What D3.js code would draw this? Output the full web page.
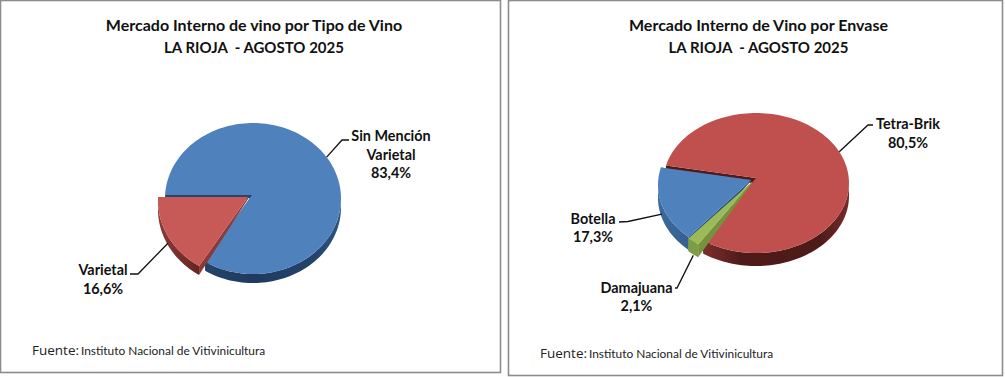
<!DOCTYPE html>
<html><head><meta charset="utf-8">
<script src="https://cdn.jsdelivr.net/npm/d3@7"></script>
<style>html,body{margin:0;padding:0;background:#fff}svg{display:block}text{font-family:Lato,"Open Sans",sans-serif;fill:#111}</style>
</head><body><svg id="c" width="1005" height="377"></svg>
<script>
// Data
const tipoCategories = ["Sin Mención Varietal", "Varietal"];
const tipoValues = [83.4, 16.6];
const tipoLabels = ["83,4%", "16,6%"];
const envaseCategories = ["Tetra-Brik", "Damajuana", "Botella"];
const envaseValues = [80.5, 2.1, 17.3];
const envaseLabels = ["80,5%", "2,1%", "17,3%"];
const titleTipo = ["Mercado Interno de vino por Tipo de Vino", "LA RIOJA  - AGOSTO 2025"];
const titleEnvase = ["Mercado Interno de Vino por Envase", "LA RIOJA  - AGOSTO 2025"];
const fuenteHead = "Fuente:";
const fuenteBody = "Instituto Nacional de Vitivinicultura";

const svg = d3.select("#c");
const defs = svg.append("defs");
const rad = d => d * Math.PI / 180;

function wallGrad(id, x0, x1, stops) {
  const g = defs.append("linearGradient").attr("id", id).attr("gradientUnits", "userSpaceOnUse")
    .attr("x1", x0).attr("x2", x1).attr("y1", 0).attr("y2", 0);
  stops.forEach(s => g.append("stop").attr("offset", s[0]).attr("stop-color", s[1]));
  return `url(#${id})`;
}

function drawPie(values, startDeg, slices, depth) {
  const arcs = d3.pie().sort(null).startAngle(rad(startDeg)).endAngle(rad(startDeg + 360))(values);
  const pt = (s, a, d = 0) => [s.cx + s.rx * Math.sin(a), s.cy - s.ry * Math.cos(a) + d];
  const line = d3.line();
  const samples = (s, a0, a1, d = 0) => {
    const n = Math.max(2, Math.ceil((a1 - a0) / rad(2)));
    return d3.range(n + 1).map(i => pt(s, a0 + (a1 - a0) * i / n, d));
  };
  slices.order.forEach(i => {
    const arc = arcs[i], s = slices.geom[i], st = slices.style[i];
    const a0 = arc.startAngle, a1 = arc.endAngle;
    // radial walls, tapering towards the apex
    [[a0, st.wallStart], [a1, st.wallEnd]].forEach(([a, col]) => {
      const r = pt(s, a);
      svg.append("path").attr("fill", col)
        .attr("d", line([[s.ax, s.ay], r, [r[0], r[1] + depth], [s.ax, s.ay + s.apexDepth]]) + "Z");
    });
    // rim wall: front half of the ellipse only
    [[rad(90), rad(270)], [rad(450), rad(630)]].forEach(([lo, hi]) => {
      const b0 = Math.max(a0, lo), b1 = Math.min(a1, hi);
      if (b1 > b0) {
        svg.append("path").attr("fill", st.rim)
          .attr("d", line(samples(s, b0, b1).concat(samples(s, b0, b1, depth).reverse())) + "Z");
      }
    });
    // top face
    svg.append("path").attr("fill", st.top)
      .attr("d", line([[s.ax, s.ay]].concat(samples(s, a0, a1))) + "Z");
  });
  return { arcs, pt };
}

function leader(p, elbow, end) {
  svg.append("path").attr("fill", "none").attr("stroke", "#111").attr("stroke-width", 1.3)
    .attr("d", d3.line()([p, elbow, end]));
}
function label(x, y, lines) {
  lines.forEach((t, i) => svg.append("text").attr("x", x).attr("y", y + i * 18.7)
    .attr("text-anchor", "middle").attr("font-size", 14.4).attr("font-weight", 700).text(t));
}
function titles(x, lines, ys) {
  lines.forEach((t, i) => svg.append("text").attr("x", x).attr("y", ys[i])
    .attr("text-anchor", "middle").attr("font-size", [16, 15][i]).attr("font-weight", 700)
    .style("white-space", "pre").text(t));
}
function fuente(x, bodyX, y) {
  const t = svg.append("text").attr("y", y);
  t.append("tspan").attr("x", x).attr("font-size", 13.5).attr("font-family", "'Open Sans'").attr("fill", "#222").text(fuenteHead);
  t.append("tspan").attr("x", bodyX).attr("font-size", 11.9).attr("fill", "#222").text(fuenteBody);
}

// panels
svg.append("rect").attr("x", 0.5).attr("y", 0.5).attr("width", 500).attr("height", 372)
  .attr("fill", "#fff").attr("stroke", "#8c8c8c").attr("stroke-width", 1.6);
svg.append("rect").attr("x", 508.5).attr("y", 0.5).attr("width", 494).attr("height", 375)
  .attr("fill", "#fff").attr("stroke", "#8c8c8c").attr("stroke-width", 1.6);

titles(254, titleTipo, [31, 52.5]);
titles(758.5, titleEnvase, [31, 52.5]);

const blueRim = wallGrad("bw", 165, 341, [[0, "#2a4a72"], [.5, "#1f3a5e"], [.85, "#24436c"], [1, "#2f5583"]]);
const redRimL = wallGrad("rw", 158, 205, [[0, "#8a3b38"], [1, "#5f2220"]]);
const redRimR = wallGrad("rw2", 705, 849, [[0, "#7a2e2c"], [.25, "#4e1b19"], [.8, "#4e1b19"], [1, "#752d2b"]]);
const blueRimR = wallGrad("bw2", 658, 690, [[0, "#3d6a9e"], [1, "#33608f"]]);

// left pie: Sin Mención (main body), Varietal (pulled out)
const gL = [
  { cx: 253, cy: 198.5, rx: 88, ry: 75.5, ax: 252, ay: 195, apexDepth: 3 },
  { cx: 248, cy: 200.6, rx: 90, ry: 78, ax: 248, ay: 197, apexDepth: 2 }
];
const L = drawPie(tipoValues, 272.7, {
  order: [0, 1],
  geom: gL,
  style: [
    { top: "#4f81bd", rim: blueRim, wallStart: "#24466f", wallEnd: "#24466f" },
    { top: "#c75956", rim: redRimL, wallStart: "#8c3a38", wallEnd: "#8c3a38" }
  ]
}, 9);

// right pie: Tetra-Brik (main body), Damajuana and Botella (pulled out)
const gR = [
  { cx: 756, cy: 183, rx: 93, ry: 70, ax: 756, ay: 178, apexDepth: 5 },
  { cx: 751, cy: 186.5, rx: 93, ry: 70, ax: 752, ay: 182, apexDepth: 1 },
  { cx: 751, cy: 185, rx: 93, ry: 70, ax: 751, ay: 180, apexDepth: 1 }
];
const R = drawPie(envaseValues, 284.5, {
  order: [0, 2, 1],
  geom: gR,
  style: [
    { top: "#c0504d", rim: redRimR, wallStart: "#4f1a18", wallEnd: "#4f1a18" },
    { top: "#9bbb59", rim: "#7d9c45", wallStart: "#76923c", wallEnd: "#76923c" },
    { top: "#4f81bd", rim: blueRimR, wallStart: "#2d5581", wallEnd: "#2d5581" }
  ]
}, 13);

const mid = a => (a.startAngle + a.endAngle) / 2;

leader(L.pt(gL[0], mid(L.arcs[0]) - rad(6)), [342, 140], [349, 140]);
leader(L.pt(gL[1], mid(L.arcs[1]), 7), [138, 274], [130, 274]);
leader(R.pt(gR[0], mid(R.arcs[0]) - rad(6)), [868, 125], [873, 125]);
leader(R.pt(gR[1], mid(R.arcs[1]), 14), [677, 288], [675, 288]);
leader(R.pt(gR[2], mid(R.arcs[2]), 9), [628, 221.5], [619, 222]);

label(391, 141, ["Sin Mención", "Varietal", tipoLabels[0]]);
label(103, 275, [tipoCategories[1], tipoLabels[1]]);
label(908, 129, [envaseCategories[0], envaseLabels[0]]);
label(636.5, 292.5, [envaseCategories[1], envaseLabels[1]]);
label(593, 223.5, [envaseCategories[2], envaseLabels[2]]);

fuente(32, 81, 355);
fuente(540, 589, 358);
</script></body></html>
